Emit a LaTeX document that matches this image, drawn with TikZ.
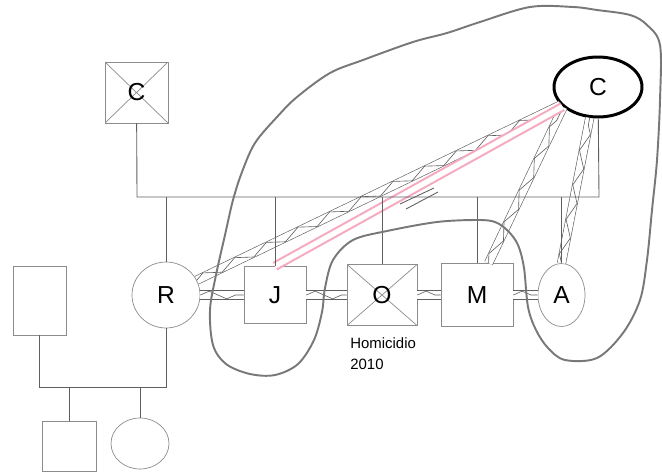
\documentclass[tikz,border=0pt]{standalone}
\usepackage{fontspec}
\setmainfont{Liberation Sans}
\usetikzlibrary{shapes.geometric,decorations.pathmorphing}

\definecolor{linegray}{RGB}{95,95,95}
\definecolor{boxgray}{RGB}{140,140,140}
\definecolor{curvegray}{RGB}{120,120,120}
\definecolor{pinkline}{RGB}{245,170,192}

\begin{document}
\begin{tikzpicture}[x=0.02cm, y=-0.02cm, >=stealth]

    \useasboundingbox (0,0) rectangle (662,473);

    \tikzset{%
    every person/.style={
        draw=boxgray,
        text=black,
        inner sep=0pt,
        font=\fontsize{14}{16}\selectfont
        },
    male/.style={rectangle},
    female/.style={ellipse},
    crossed/.style={
        path picture={\draw [boxgray] (path picture bounding box.north west) -- (path picture bounding box.south east)
            (path picture bounding box.north east) -- (path picture bounding box.south west);}
        },
    sibling 1/.style={female, minimum width=1.36cm, minimum height=1.32cm},
    sibling 2/.style={male, minimum width=1.24cm, minimum height=1.14cm},
    sibling 3/.style={male, crossed, minimum width=1.4cm, minimum height=1.22cm},
    sibling 4/.style={male, minimum width=1.44cm, minimum height=1.26cm},
    sibling 5/.style={female, minimum width=0.94cm, minimum height=1.26cm},
    hostile/.style={
        draw=linegray,
        line width=0.35pt,
        double=white,
        double distance=4.5pt,
        postaction={draw=linegray, line width=0.35pt, decorate,
            decoration={zigzag, segment length=20pt, amplitude=2.2pt}}
        },
    close/.style={draw=pinkline, line width=1.2pt, double=white, double distance=3pt},
    family/.style={draw=linegray, line width=0.5pt},
    boundary/.style={draw=curvegray, line width=1.1pt},
    }

    % Parents
    \node [every person/.try, male, crossed, minimum width=1.26cm, minimum height=1.22cm] (parent-1) at (136.5,92.5) {C};
    \node [every person/.try, female, draw=black, line width=1.7pt, minimum width=1.76cm, minimum height=1.2cm] (parent-2) at (598,87) {C};

    % Siblings
    \foreach \m/\x [count=\y] in {R/166,J/275,O/382,M/477,A/561.5}
    \node [every person/.try, sibling \y/.try] (sibling-\y) at (\x,295) {\m};

    \node [anchor=north west, align=left, inner sep=0pt, font=\fontsize{8.5}{12}\selectfont] (note) at (350,337) {Homicidio\\2010};

    % Family of R
    \node [every person/.try, male, minimum width=1.06cm, minimum height=1.38cm] (spouse) at (39.5,300.5) {};
    \node [every person/.try, male, minimum width=1.08cm, minimum height=1cm] (child-1) at (69,446) {};
    \node [every person/.try, female, minimum width=1.16cm, minimum height=1.02cm] (child-2) at (140,443.5) {};

    \coordinate (sib-left) at (137,197);
    \coordinate (sib-right) at (599,197);
    \coordinate (low-left) at (39,387);

    % Relationships
    \foreach \a/\b in {1/2,2/3,3/4,4/5}
    \draw [hostile] (sibling-\a) -- (sibling-\b);
    \draw [hostile] (sibling-1) -- (parent-2);
    \draw [hostile] (sibling-4.70) -- (parent-2.210);
    \draw [hostile] (sibling-5.north) -- (parent-2.255);
    \draw [close] (sibling-2.north) -- (parent-2);

    % Family lines
    \draw [family] (parent-1) -- (sib-left) -- (sib-right) -- (parent-2);
    \foreach \i in {1,...,5} \draw [family] (sibling-\i |- sib-left) -- (sibling-\i);
    \draw [family] (400,204) -- (434,188) (406,209) -- (438,192);

    \draw [family] (spouse) -- (spouse |- low-left) -- (sibling-1 |- low-left) -- (sibling-1);
    \foreach \i in {1,2} \draw [family] (child-\i |- low-left) -- (child-\i);

    % Boundary
    \draw [boundary] plot [smooth cycle, tension=0.55] coordinates {
        (277,117) (255,143) (242,172) (233,200) (225,235) (216,275) (210,310)
        (213,345) (226,364) (250,374) (275,375) (298,364) (314,340) (322,312)
        (325,288) (333,260) (353,240) (387,231) (437,222) (477,220) (495,222)
        (508,231) (518,245) (524,268) (528,307) (536,330) (548,348) (565,360)
        (597,358) (623,333) (640,300) (647,260) (652,210) (657,160) (660,100)
        (660,45) (647,25) (630,15) (597,10) (573,7) (530,7) (480,22) (447,33)
        (413,42) (363,60) (330,73) (297,97)
    };

\end{tikzpicture}
\end{document}
